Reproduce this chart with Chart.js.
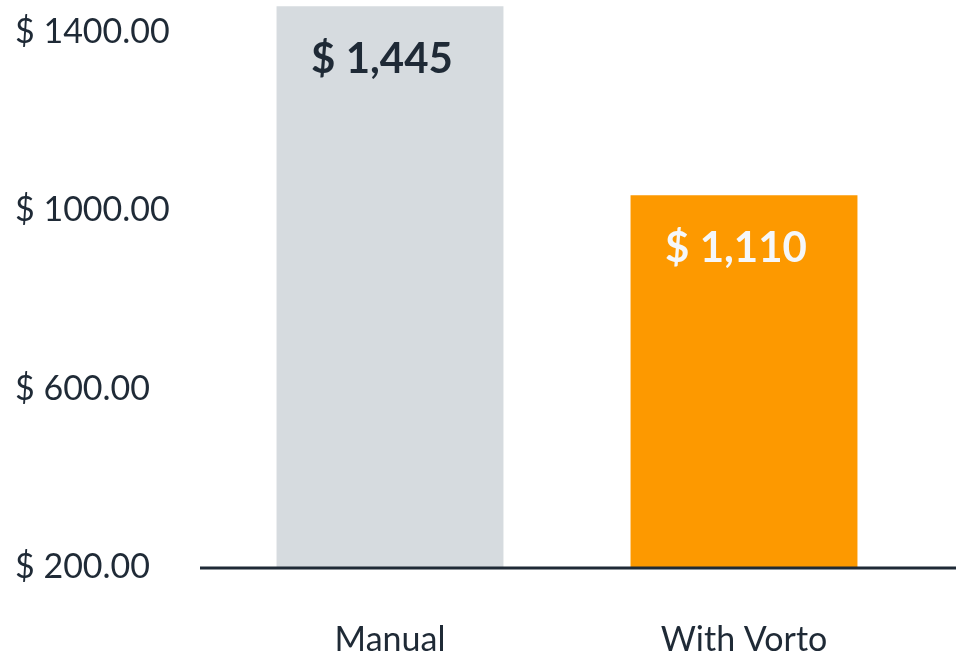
<!DOCTYPE html>
<html>
<head>
<meta charset="utf-8">
<script src="https://cdn.jsdelivr.net/npm/chart.js@4/dist/chart.umd.min.js"></script>
<style>
    html, body { margin: 0; padding: 0; background: #ffffff; }
    #wrap { position: relative; width: 956px; height: 657px; }
</style>
</head>
<body>
<div id="wrap"><canvas id="cost-chart"></canvas></div>
<script>
// Chart data
const categories = ['Manual', 'With Vorto'];
const costValues = [1458, 1034];
const valueLabels = ['$ 1,445', '$ 1,110'];
const tickValues = [200, 600, 1000, 1400];

const barColors = ['#d6dbdf', '#fd9900'];
const labelColors = ['#1f2a36', '#f5f7fa'];
const inkColor = '#1f2a36';
const fontFamily = 'Lato, "Open Sans", sans-serif';

// Baseline drawn across the full width under the bars
const baselinePlugin = {
    id: 'baseline',
    afterDatasetsDraw(chart) {
        const ctx = chart.ctx;
        const y = chart.scales.y.getPixelForValue(200);
        ctx.save();
        ctx.strokeStyle = inkColor;
        ctx.lineWidth = 3;
        ctx.beginPath();
        ctx.moveTo(200, y + 1);
        ctx.lineTo(chart.width, y + 1);
        ctx.stroke();
        ctx.restore();
    }
};

// Value labels inside the bars
const valueLabelPlugin = {
    id: 'valueLabels',
    afterDatasetsDraw(chart) {
        const ctx = chart.ctx;
        const meta = chart.getDatasetMeta(0);
        ctx.save();
        ctx.font = '700 42px ' + fontFamily;
        ctx.textAlign = 'center';
        ctx.textBaseline = 'middle';
        meta.data.forEach((bar, i) => {
            ctx.fillStyle = labelColors[i];
            ctx.fillText(valueLabels[i], bar.x - 8, bar.y + 53);
        });
        ctx.restore();
    }
};

const canvas = document.getElementById('cost-chart');

new Chart(canvas, {
    type: 'bar',
    data: {
        labels: categories,
        datasets: [{
            data: costValues,
            backgroundColor: barColors,
            borderWidth: 0,
            barPercentage: 0.641,
            categoryPercentage: 1.0
        }]
    },
    options: {
        responsive: true,
        maintainAspectRatio: false,
        animation: false,
        layout: {
            padding: { left: 15, right: 35, top: 0, bottom: 0 }
        },
        plugins: {
            legend: { display: false },
            tooltip: { enabled: false }
        },
        scales: {
            x: {
                grid: { display: false, drawTicks: false },
                border: { display: false },
                ticks: {
                    color: inkColor,
                    font: { family: fontFamily, size: 34 },
                    padding: 53
                },
                afterFit(scale) {
                    scale.height = 90;
                    scale.paddingLeft = 0;
                    scale.paddingRight = 0;
                }
            },
            y: {
                min: 200,
                max: 1472,
                grid: { display: false, drawTicks: false },
                border: { display: false },
                afterBuildTicks(scale) {
                    scale.ticks = tickValues.map(v => ({ value: v }));
                },
                ticks: {
                    color: inkColor,
                    font: { family: fontFamily, size: 34 },
                    crossAlign: 'far',
                    callback: value => '$ ' + Number(value).toFixed(2)
                },
                afterFit(scale) {
                    scale.width = 198;
                    scale.paddingTop = 0;
                    scale.paddingBottom = 0;
                }
            }
        }
    },
    plugins: [baselinePlugin, valueLabelPlugin]
});
</script>
</body>
</html>
